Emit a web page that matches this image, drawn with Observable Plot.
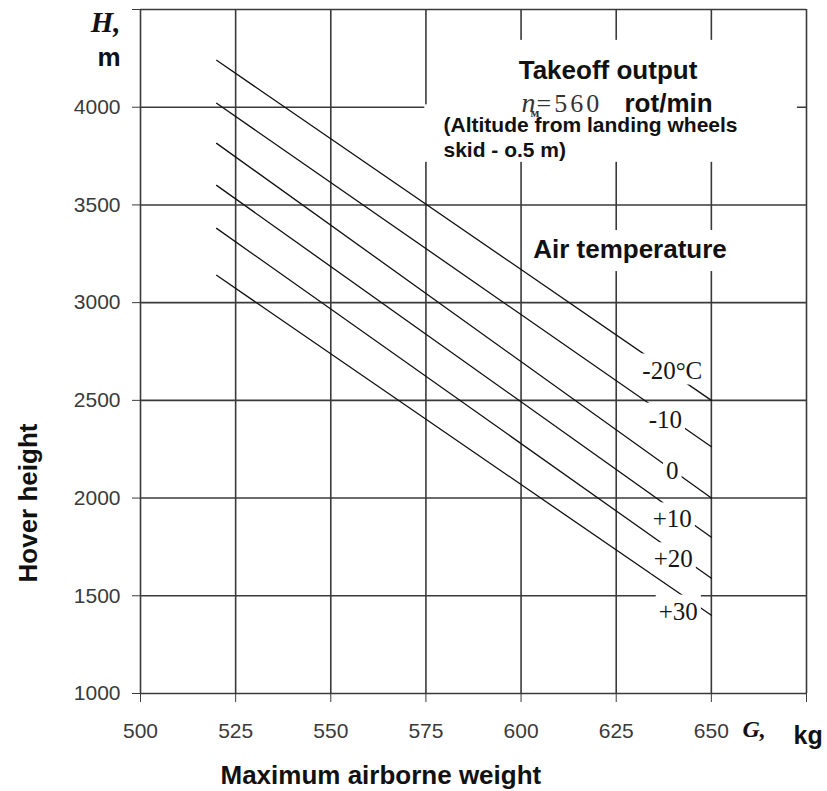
<!DOCTYPE html>
<html>
<head>
<meta charset="utf-8">
<script src="https://cdn.jsdelivr.net/npm/d3@7"></script>
<script src="https://cdn.jsdelivr.net/npm/@observablehq/plot@0.6"></script>
<style>
  html, body { margin: 0; padding: 0; background: #fff; }
  #chart svg { display: block; }
</style>
</head>
<body>
<div id="chart"></div>
<script>
// ---------- data ----------
const temperatures = ["-20°C", "-10", "0", "+10", "+20", "+30"];
const weightRange = [520, 650];                                  // kg, where each curve starts / ends
const heightAtStart = [4240, 4020, 3815, 3600, 3380, 3140];      // m at 520 kg
const heightAtEnd   = [2500, 2263, 2000, 1800, 1590, 1400];      // m at 650 kg
const weightTicks = [500, 525, 550, 575, 600, 625, 650, 675];
const weightTickLabels = ["500", "525", "550", "575", "600", "625", "650", ""];
const heightTicks = [1000, 1500, 2000, 2500, 3000, 3500, 4000, 4500];
const heightTickLabels = ["1000", "1500", "2000", "2500", "3000", "3500", "4000", ""];

// ---------- layout ----------
const W = 827, H = 791;
const M = {top: 9, right: 21, bottom: 98, left: 140};
const xDomain = [500, 675], yDomain = [1000, 4500];
const pxPerW = (W - M.left - M.right) / (xDomain[1] - xDomain[0]);
const pxPerH = (H - M.top - M.bottom) / (yDomain[1] - yDomain[0]);

const curves = temperatures.flatMap((t, i) => [
  {t, w: weightRange[0], h: heightAtStart[i]},
  {t, w: weightRange[1], h: heightAtEnd[i]}
]);

// curve labels sit near the right end of each curve (pixel nudges)
const labelNudge = [[-1, -3], [-8, 5], [-1, 1], [-1, 10], [0, 8], [5, 19]];
const labelRows = temperatures.map((t, i) => {
  const w = 640 + labelNudge[i][0] / pxPerW;
  const f = (w - weightRange[0]) / (weightRange[1] - weightRange[0]);
  const h = heightAtStart[i] + f * (heightAtEnd[i] - heightAtStart[i]) - labelNudge[i][1] / pxPerH;
  return {t, w, h};
});

// white backdrops of the annotation texts (they interrupt the grid)
const backdrops = [
  {x1: 575.5, x2: 672.6, y1: 3998, y2: 4342},
  {x1: 574.7, x2: 672.6, y1: 3718, y2: 4012},
  {x1: 601.0, x2: 657.7, y1: 3159, y2: 3369}
];

const xLab = new Map(weightTicks.map((d, i) => [d, weightTickLabels[i]]));
const yLab = new Map(heightTicks.map((d, i) => [d, heightTickLabels[i]]));

const sans = "'Liberation Sans', Arial, Helvetica, sans-serif";
const serif = "'Liberation Serif', 'Times New Roman', Times, serif";
const gridColor = "#3a3a3a";

const note = (s, o) => Plot.text([s], Object.assign({text: d => d, frameAnchor: "top-left", lineAnchor: "bottom", textAnchor: "start", fill: "#111"}, o));

const plot = Plot.plot({
  width: W, height: H,
  marginTop: M.top, marginRight: M.right, marginBottom: M.bottom, marginLeft: M.left,
  style: {background: "#fff", fontFamily: sans, fontSize: "21px", color: "#3a3a3a"},
  x: {domain: xDomain, ticks: weightTicks, tickFormat: d => xLab.get(d), tickSize: 9, tickPadding: 21, label: null},
  y: {domain: yDomain, ticks: heightTicks, tickFormat: d => yLab.get(d), tickSize: 8, tickPadding: 12, label: null},
  marks: [
    Plot.ruleX(weightTicks, {stroke: gridColor, strokeWidth: 1.6}),
    Plot.ruleY(heightTicks, {stroke: gridColor, strokeWidth: 1.6}),
    Plot.rect(backdrops, {x1: "x1", x2: "x2", y1: "y1", y2: "y2", fill: "#fff"}),
    Plot.line(curves, {x: "w", y: "h", z: "t", stroke: "#111", strokeWidth: 1.3}),
    Plot.text(labelRows, {x: "w", y: "h", text: "t", fontFamily: serif, fontSize: 25, fill: "#151515",
      textAnchor: "middle", lineAnchor: "middle"}),
    // annotation in the upper right
    note("Takeoff output", {dx: 467.5, dy: 69, textAnchor: "middle", fontWeight: "bold", fontSize: 26, fontFamily: sans}),
    note("(Altitude from landing wheels\nskid - o.5 m)", {dx: 303, dy: 147.7, fontWeight: "bold", fontFamily: sans, fontSize: 21, lineHeight: 1.19}),
    note("n", {dx: 381, dy: 102.7, fontStyle: "italic", fontFamily: serif, fontSize: 28, fill: "#333"}),
    note("м", {dx: 390, dy: 107, fontWeight: "bold", fontFamily: serif, fontSize: 13, fill: "#333"}),
    note("=560", {dx: 396, dy: 102.7, fontFamily: serif, fontSize: 26, fill: "#333"}),
    note("rot/min", {dx: 484, dy: 102.7, fontWeight: "bold", fontFamily: sans, fontSize: 26}),
    note("Air temperature", {dx: 392.7, dy: 248.3, fontWeight: "bold", fontFamily: sans, fontSize: 26}),
    // axis titles
    note("H,", {dx: -20, dy: 22.7, textAnchor: "end", fontWeight: "bold", fontStyle: "italic", fontFamily: serif, fontSize: 29}),
    note("m", {dx: -20, dy: 56.3, textAnchor: "end", fontWeight: "bold", fontFamily: sans, fontSize: 26}),
    Plot.text(["Hover height"], {text: d => d, frameAnchor: "left", dx: -104, dy: 151.5, rotate: -90,
      textAnchor: "middle", lineAnchor: "bottom", fontWeight: "bold", fontFamily: sans, fontSize: 26, fill: "#111"}),
    Plot.text(["Maximum airborne weight"], {text: d => d, frameAnchor: "bottom-left", dx: 80, dy: 90,
      textAnchor: "start", lineAnchor: "bottom", fontWeight: "bold", fontFamily: sans, fontSize: 26, fill: "#111"}),
    Plot.text(["G,"], {text: d => d, frameAnchor: "bottom-right", dx: -64, dy: 43,
      textAnchor: "start", lineAnchor: "bottom", fontWeight: "bold", fontStyle: "italic", fontFamily: serif, fontSize: 24, fill: "#111"}),
    Plot.text(["kg"], {text: d => d, frameAnchor: "bottom-right", dx: -13, dy: 50,
      textAnchor: "start", lineAnchor: "bottom", fontWeight: "bold", fontFamily: sans, fontSize: 25, fill: "#111"})
  ]
});

document.getElementById("chart").append(plot);

// white boxes behind the curve labels, and spacing of the "=560" text
const labelSet = new Set(temperatures);
d3.select(plot).selectAll("text").each(function () {
  const s = this.textContent;
  if (s === "=560") this.setAttribute("letter-spacing", "3");
  if (!labelSet.has(s)) return;
  const b = this.getBBox();
  const r = document.createElementNS("http://www.w3.org/2000/svg", "rect");
  r.setAttribute("x", b.x - 3);
  r.setAttribute("y", b.y - 3);
  r.setAttribute("width", b.width + 6);
  r.setAttribute("height", b.height + 4);
  r.setAttribute("fill", "#fff");
  r.setAttribute("stroke", "none");
  const tr = this.getAttribute("transform");
  if (tr) r.setAttribute("transform", tr);
  this.parentNode.insertBefore(r, this);
});
</script>
</body>
</html>
